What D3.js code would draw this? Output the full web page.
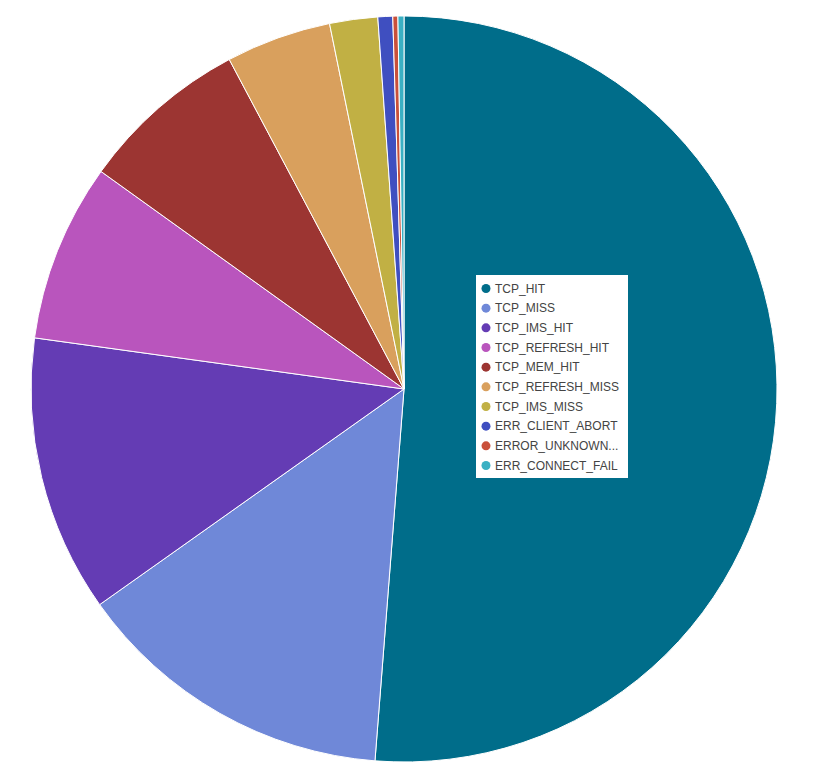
<!DOCTYPE html>
<html><head><meta charset="utf-8">
<script src="https://cdn.jsdelivr.net/npm/d3@7"></script>
<style>body{margin:0;background:#fff;}</style>
</head><body>
<svg id="c" width="817" height="782"></svg>
<script>
const categories = ["TCP_HIT","TCP_MISS","TCP_IMS_HIT","TCP_REFRESH_HIT","TCP_MEM_HIT","TCP_REFRESH_MISS","TCP_IMS_MISS","ERR_CLIENT_ABORT","ERROR_UNKNOWN","ERR_CONNECT_FAIL"];
const legendLabels = ["TCP_HIT","TCP_MISS","TCP_IMS_HIT","TCP_REFRESH_HIT","TCP_MEM_HIT","TCP_REFRESH_MISS","TCP_IMS_MISS","ERR_CLIENT_ABORT","ERROR_UNKNOWN...","ERR_CONNECT_FAIL"];
const values = [51.24,13.95,12.0,7.72,7.33,4.56,2.08,0.64,0.22,0.26];
const colors = ["#006d8a","#6f88d8","#643cb4","#b955bd","#9c3532","#d9a05d","#c1b044","#3f4fc0","#c9503a","#3ab0c3"];

const svg = d3.select("#c");
const cx = 404, cy = 389, r = 373;
const color = d3.scaleOrdinal().domain(categories).range(colors);
const pie = d3.pie().sort(null).value(d => d.v);
const data = categories.map((c,i)=>({c, v: values[i]}));
const arc = d3.arc().innerRadius(0).outerRadius(r);
const g = svg.append("g").attr("transform",`translate(${cx},${cy})`);
g.selectAll("path").data(pie(data)).join("path")
  .attr("d", arc).attr("fill", d=>color(d.data.c))
  .attr("stroke","#fff").attr("stroke-width",1);

const lg = svg.append("g").attr("transform","translate(476,275)");
lg.append("rect").attr("width",152).attr("height",203).attr("fill","#fff");
const y = d3.scalePoint().domain(categories).range([13.5, 190.5]);
const items = lg.selectAll("g.it").data(categories).join("g").attr("class","it")
  .attr("transform", d=>`translate(0,${y(d)})`);
items.append("circle").attr("cx",10).attr("cy",0).attr("r",4.5).attr("fill",d=>color(d));
items.append("text").attr("x",19).attr("y",0).attr("dy","0.35em")
  .attr("font-family","Liberation Sans, Arial, sans-serif").attr("font-size",12)
  .attr("fill","#444").text((d,i)=>legendLabels[i]);
</script>
</body></html>
